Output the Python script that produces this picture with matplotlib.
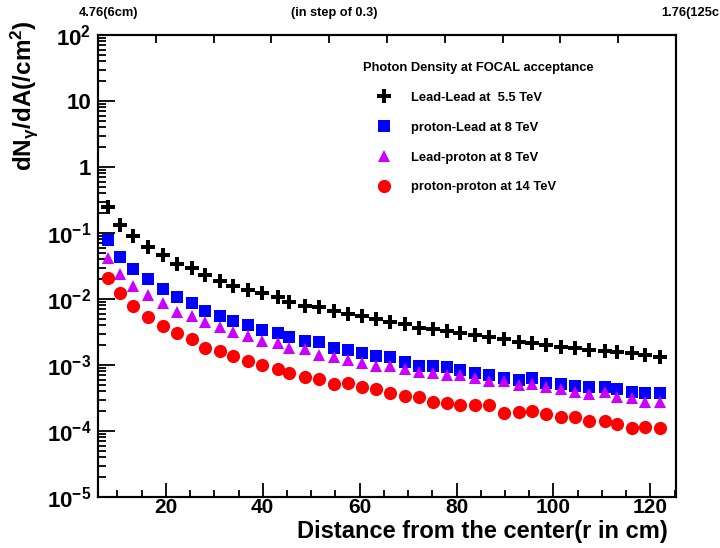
import math

import matplotlib
matplotlib.use("Agg")
import matplotlib.pyplot as plt
from matplotlib.ticker import FixedLocator, FuncFormatter, LogLocator, NullFormatter

plt.rcParams["font.family"] = ["Liberation Sans", "DejaVu Sans"]
plt.rcParams["font.weight"] = "bold"
plt.rcParams["mathtext.fontset"] = "custom"
plt.rcParams["mathtext.rm"] = "Liberation Sans:bold"
plt.rcParams["mathtext.bf"] = "Liberation Sans:bold"
plt.rcParams["mathtext.it"] = "Liberation Sans:bold"
plt.rcParams["mathtext.sf"] = "Liberation Sans:bold"

# distance from the centre, r in cm
r_cm = [8.0, 10.6, 13.3, 16.4, 19.4, 22.3, 25.5, 28.0, 31.2, 33.9,
        37.0, 39.8, 43.1, 45.5, 48.8, 51.6, 54.7, 57.5, 60.5, 63.3,
        66.3, 69.3, 72.3, 75.2, 78.0, 80.7, 83.9, 86.8, 89.8, 92.8,
        95.5, 98.5, 101.5, 104.5, 107.4, 110.6, 113.1, 116.2, 119.0, 122.1]

pbpb = [0.245, 0.132, 0.0902, 0.0619, 0.0465, 0.0336, 0.0292, 0.0231, 0.0188, 0.0157,
        0.0137, 0.0122, 0.0106, 0.0091, 0.00793, 0.00764, 0.00665, 0.00586, 0.00552, 0.00492,
        0.00453, 0.00414, 0.00367, 0.00348, 0.00327, 0.00302, 0.00285, 0.00263, 0.00248, 0.00225,
        0.00213, 0.00201, 0.00189, 0.00179, 0.00169, 0.00165, 0.00159, 0.0015, 0.00142, 0.00134]

ppb = [0.0783, 0.0438, 0.0282, 0.0199, 0.0142, 0.0106, 0.00861, 0.00665, 0.00552, 0.00469,
       0.00404, 0.00339, 0.00302, 0.00263, 0.00231, 0.00221, 0.00179, 0.00169, 0.00153, 0.00138,
       0.00131, 0.0011, 0.00098, 0.00097, 0.000943, 0.00084, 0.000748, 0.000705, 0.000628, 0.000593,
       0.000628, 0.00054, 0.00051, 0.000481, 0.000459, 0.000459, 0.000428, 0.000394, 0.000372, 0.000372]

pbp = [0.0414, 0.0237, 0.0157, 0.0115, 0.00879, 0.00643, 0.00552, 0.00453, 0.0038, 0.0032,
       0.00275, 0.00231, 0.00213, 0.00179, 0.00173, 0.00142, 0.00131, 0.00119, 0.00106, 0.000976,
       0.000966, 0.000869, 0.000791, 0.000748, 0.000705, 0.0007, 0.000643, 0.000573, 0.000573, 0.000498,
       0.000515, 0.000459, 0.000428, 0.000394, 0.000364, 0.000394, 0.000331, 0.000313, 0.000278, 0.000278]

pp = [0.0206, 0.0122, 0.00783, 0.00528, 0.00394, 0.00308, 0.00245, 0.00179, 0.00165, 0.00137,
      0.00116, 0.001, 0.000861, 0.000764, 0.000665, 0.000614, 0.000515, 0.000528, 0.000469, 0.000428,
      0.00038, 0.000339, 0.000324, 0.000278, 0.000263, 0.000248, 0.000248, 0.00025, 0.000189, 0.000196,
      0.000201, 0.000179, 0.000161, 0.000161, 0.000143, 0.000143, 0.000128, 0.000112, 0.000116, 0.000112]

labels = ["Lead-Lead at  5.5 TeV", "proton-Lead at 8 TeV",
          "Lead-proton at 8 TeV", "proton-proton at 14 TeV"]

y_decades = [1e-5, 1e-4, 1e-3, 1e-2, 1e-1, 1, 10, 100]

# pseudo-rapidity scale on top, 4.76 -> 1.76 in steps of 0.3
eta_ticks = [4.76, 4.46, 4.16, 3.86, 3.56, 3.26, 2.96, 2.66, 2.36, 2.06, 1.76]

fig = plt.figure(figsize=(7.2, 5.48), dpi=100)
ax = fig.add_axes([98 / 720, 51 / 548, 578 / 720, 462 / 548])

ax.plot(r_cm, pbpb, "P", color="black", ms=10.5, mew=0, label=labels[0])
ax.plot(r_cm, ppb, "s", color="#0000ff", ms=8, mew=0, label=labels[1])
ax.plot(r_cm, pbp, "^", color="#cc00ff", ms=8, mew=0, label=labels[2])
ax.plot(r_cm, pp, "o", color="#ff0000", ms=9.5, mew=0, label=labels[3])

ax.set_yscale("log")
ax.set_ylim(y_decades[0], y_decades[-1])
ax.set_xlim(6, 125.3)


def ylab(v, pos):
    e = int(round(math.log10(v)))
    if e == 0:
        return "1"
    if e == 1:
        return "10"
    return r"$\mathbf{10^{%d}}$" % e


ax.yaxis.set_major_locator(FixedLocator(y_decades))
ax.yaxis.set_minor_locator(LogLocator(base=10, subs=range(2, 10), numticks=20))
ax.yaxis.set_major_formatter(FuncFormatter(ylab))
ax.yaxis.set_minor_formatter(NullFormatter())
ax.xaxis.set_major_locator(FixedLocator([20, 40, 60, 80, 100, 120]))
ax.xaxis.set_minor_locator(FixedLocator([10, 15, 25, 30, 35, 45, 50, 55, 65, 70, 75,
                                         85, 90, 95, 105, 110, 115, 125]))
ax.xaxis.set_minor_formatter(NullFormatter())

ax.tick_params(which="both", direction="in", top=False, right=False, width=1.3)
ax.tick_params(axis="y", which="major", length=12, labelsize=16, pad=5)
ax.tick_params(axis="y", which="minor", length=6)
ax.tick_params(axis="x", which="major", length=10, labelsize=15, pad=1)
ax.tick_params(axis="x", which="minor", length=5)
for s in ax.spines.values():
    s.set_linewidth(1.5)

ax.set_xlabel("Distance from the center(r in cm)", fontsize=17, fontweight="bold", loc="right")
ax.xaxis.set_label_coords((668 - 98) / 578, -0.05)
ax.set_ylabel(r"dN$_{\gamma}$/dA(/cm$^{2}$)", fontsize=17.5, fontweight="bold", loc="top")
ax.yaxis.set_label_coords(-0.1, 1.032)

ax2 = ax.twiny()
ax2.set_xlim(eta_ticks[0], eta_ticks[-1])
ax2.xaxis.set_major_locator(FixedLocator(eta_ticks))
ax2.tick_params(axis="x", direction="in", length=6, width=1.3, labeltop=False)
for s in ax2.spines.values():
    s.set_linewidth(1.5)

fig.text(79 / 720, 1 - 13 / 548, "4.76(6cm)", fontsize=9.3, fontweight="bold", va="center")
fig.text(291 / 720, 1 - 13 / 548, "(in step of 0.3)", fontsize=9.2, fontweight="bold", va="center")
fig.text(719 / 720, 1 - 13 / 548, "1.76(125c", fontsize=9.3, fontweight="bold", va="center", ha="right")

ax.legend(loc="upper left", bbox_to_anchor=(363 / 720, 1 - 62 / 548), bbox_transform=fig.transFigure,
          frameon=False, numpoints=1, title="Photon Density at FOCAL acceptance",
          alignment="left", prop={"size": 9.3, "weight": "bold"},
          title_fontproperties={"size": 9.3, "weight": "bold"},
          borderpad=0, borderaxespad=0, labelspacing=1.38, handlelength=3.2, handletextpad=0.5)

fig.savefig("out.png", dpi=100)
